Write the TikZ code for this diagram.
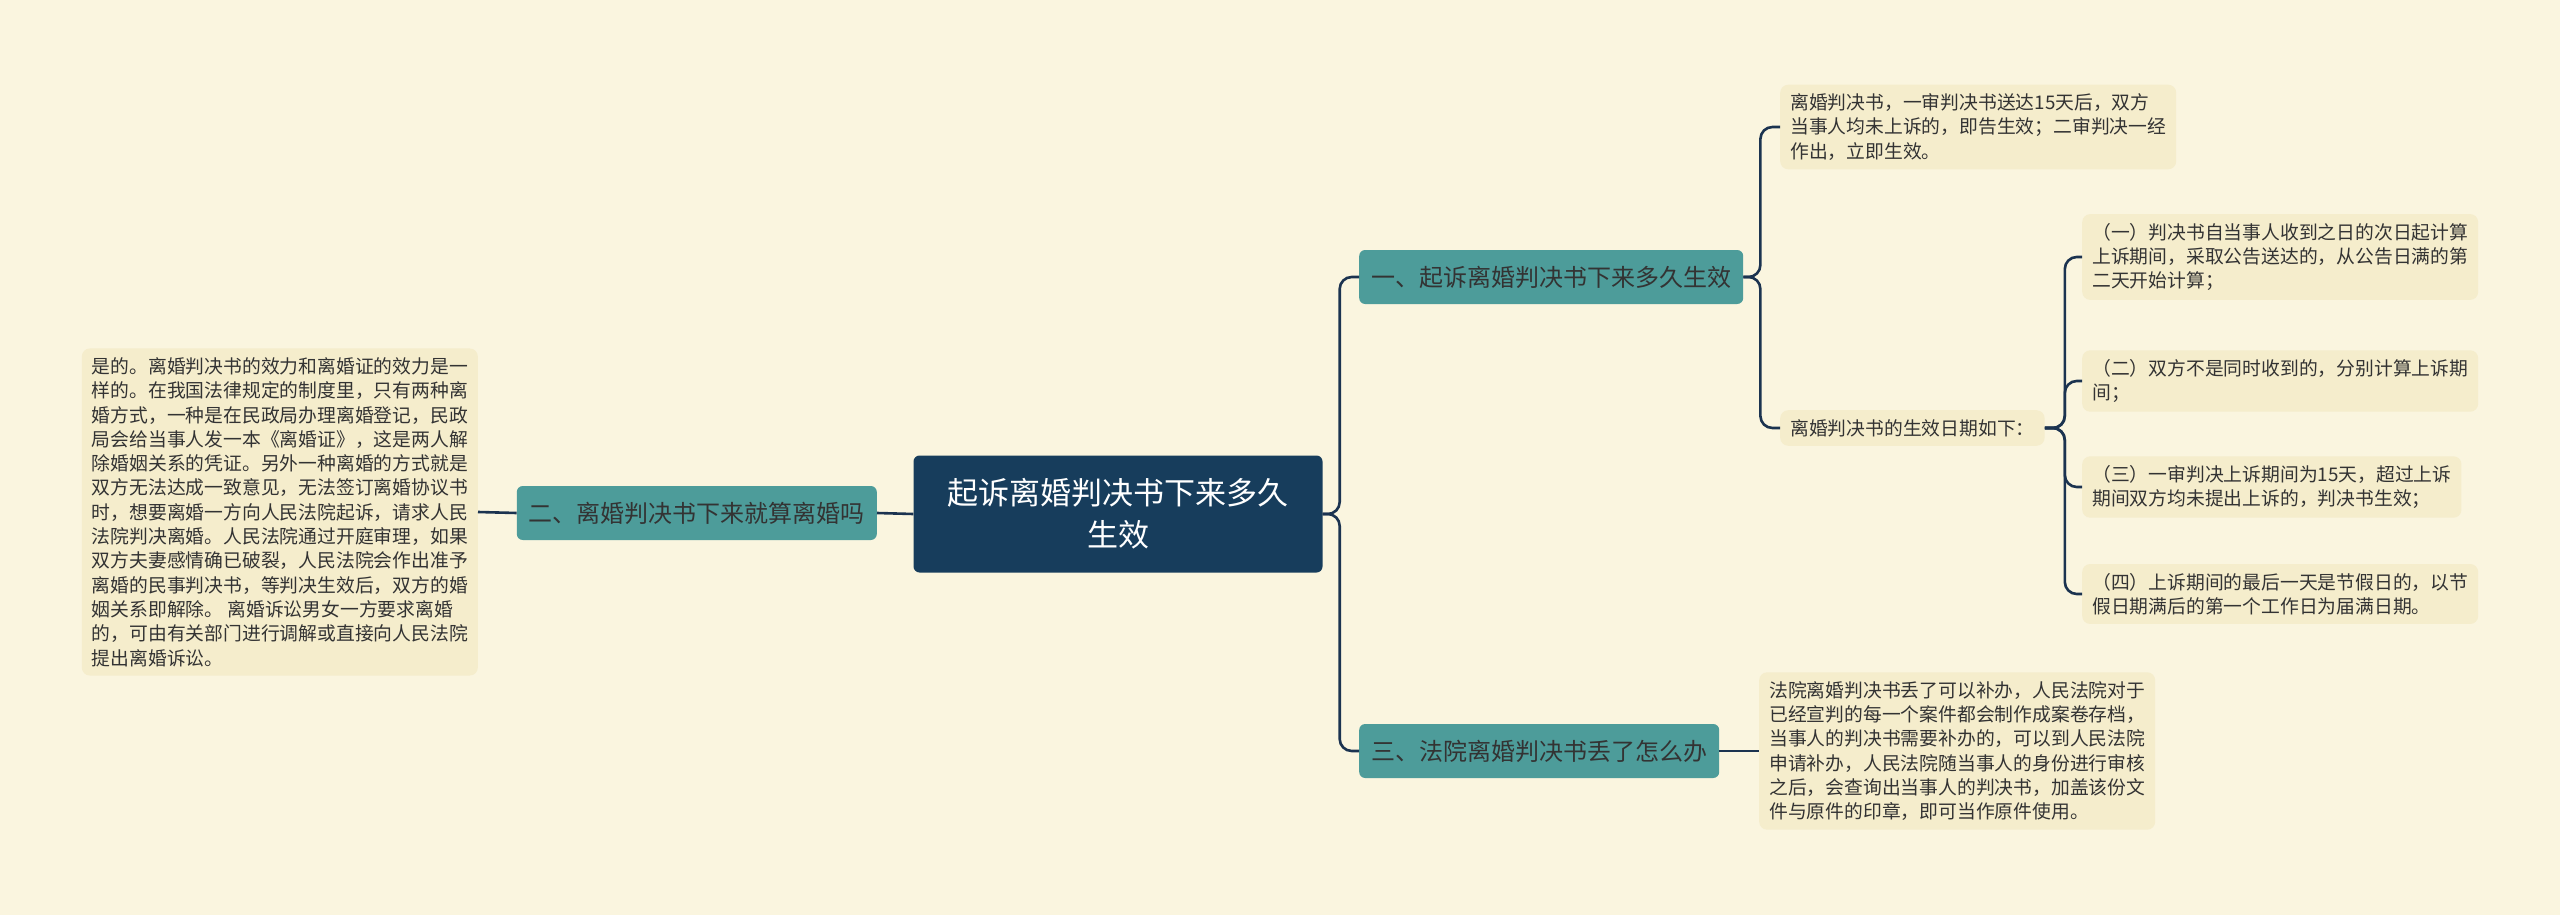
\documentclass[tikz,border=0pt]{standalone}
\usepackage{fontspec}
\setmainfont{Noto Sans CJK SC}
\usetikzlibrary{positioning}
\definecolor{BgColor}{HTML}{FAF5DF}
\definecolor{LeafColor}{HTML}{F5EDCC}
\definecolor{RootColor}{HTML}{173D5C}
\definecolor{BranchColor}{HTML}{4D9C9A}
\definecolor{LineColor}{HTML}{1B3350}
\definecolor{TextColor}{HTML}{333333}
\tikzset{
  rootbox/.style={fill=RootColor, text=white, rounded corners=6pt, align=center, font=\fontsize{31}{42}\selectfont, minimum width=409pt, minimum height=117pt},
  branchbox/.style={fill=BranchColor, text=TextColor, rounded corners=6pt, font=\fontsize{24}{30}\selectfont, minimum height=54pt, inner xsep=12pt},
  leafbox/.style={fill=LeafColor, text=TextColor, rounded corners=8pt, align=left, font=\fontsize{18.8}{24.3}\selectfont, inner xsep=10pt, inner ysep=9pt},
  conn/.style={draw=LineColor, line width=2.6pt, rounded corners=12pt}
}
\begin{document}
\begin{tikzpicture}[x=1pt, y=-1pt]
\fill[BgColor] (0,0) rectangle (2560,915);
\useasboundingbox (0,0) rectangle (2560,915);

%% Main nodes
\node[rootbox] (root) at (1118,514) {起诉离婚判决书下来多久\\生效};
\node[branchbox, anchor=west] (b1) at (1359,277) {一、起诉离婚判决书下来多久生效};
\node[branchbox, anchor=east] (b2) at (877,513) {二、离婚判决书下来就算离婚吗};
\node[branchbox, anchor=west] (b3) at (1359,751) {三、法院离婚判决书丢了怎么办};

%% Leaves of branch one
\node[leafbox, anchor=west] (l1) at (1780,127) {离婚判决书，一审判决书送达15天后，双方\\当事人均未上诉的，即告生效；二审判决一经\\作出，立即生效。};
\node[leafbox, anchor=west] (l2) at (1780,428) {离婚判决书的生效日期如下：};
\node[leafbox, anchor=west] (s1) at (2082,257) {（一）判决书自当事人收到之日的次日起计算\\上诉期间，采取公告送达的，从公告日满的第\\二天开始计算；};
\node[leafbox, anchor=west] (s2) at (2082,381) {（二）双方不是同时收到的，分别计算上诉期\\间；};
\node[leafbox, anchor=west] (s3) at (2082,487) {（三）一审判决上诉期间为15天，超过上诉\\期间双方均未提出上诉的，判决书生效；};
\node[leafbox, anchor=west] (s4) at (2082,594) {（四）上诉期间的最后一天是节假日的，以节\\假日期满后的第一个工作日为届满日期。};

%% Leaf of branch two
\node[leafbox, anchor=east] (l3) at (478,512) {是的。离婚判决书的效力和离婚证的效力是一\\样的。在我国法律规定的制度里，只有两种离\\婚方式，一种是在民政局办理离婚登记，民政\\局会给当事人发一本《离婚证》，这是两人解\\除婚姻关系的凭证。另外一种离婚的方式就是\\双方无法达成一致意见，无法签订离婚协议书\\时，想要离婚一方向人民法院起诉，请求人民\\法院判决离婚。人民法院通过开庭审理，如果\\双方夫妻感情确已破裂，人民法院会作出准予\\离婚的民事判决书，等判决生效后，双方的婚\\姻关系即解除。 离婚诉讼男女一方要求离婚\\的，可由有关部门进行调解或直接向人民法院\\提出离婚诉讼。};

%% Leaf of branch three
\node[leafbox, anchor=west] (l4) at (1759,751) {法院离婚判决书丢了可以补办，人民法院对于\\已经宣判的每一个案件都会制作成案卷存档，\\当事人的判决书需要补办的，可以到人民法院\\申请补办，人民法院随当事人的身份进行审核\\之后，会查询出当事人的判决书，加盖该份文\\件与原件的印章，即可当作原件使用。};

%% Connectors
\draw[conn] (root.east) -- ++(17,0) |- (b1.west);
\draw[conn] (root.east) -- ++(17,0) |- (b3.west);
\draw[conn] (root.west) -- (b2.east);
\draw[conn] (b2.west) -- (l3.east);
\draw[conn] (b3.east) -- (l4.west);
\draw[conn] (b1.east) -- ++(17,0) |- (l1.west);
\draw[conn] (b1.east) -- ++(17,0) |- (l2.west);
\foreach \s in {s1,s2,s3,s4}
  \draw[conn] (l2.east) -- ++(20,0) |- (\s.west);

\end{tikzpicture}
\end{document}
